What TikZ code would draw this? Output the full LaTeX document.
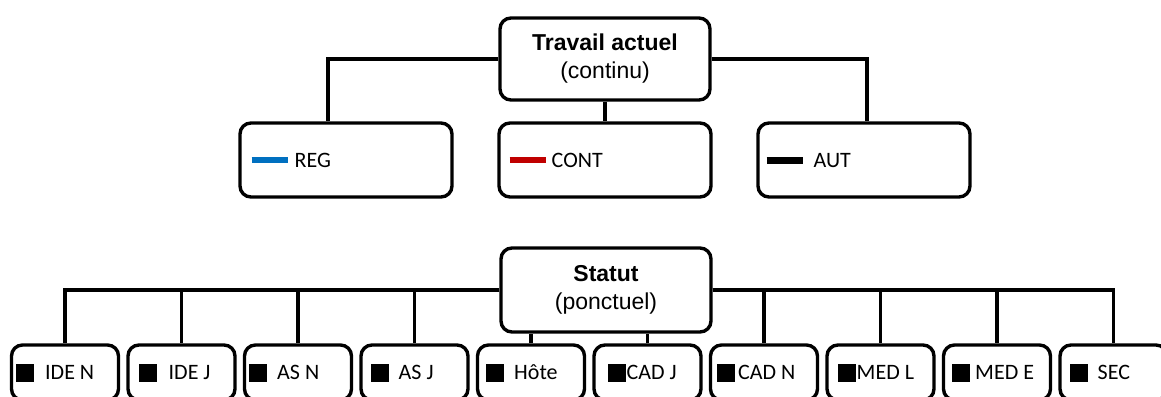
\documentclass[tikz,border=0pt]{standalone}
\usepackage{fontspec}
\setmainfont{Liberation Sans}
\newfontfamily\carlito{Carlito}
\usetikzlibrary{positioning}
\definecolor{regblue}{HTML}{0070C0}
\definecolor{contred}{HTML}{C00000}
\newcommand{\legline}[2][3pt]{{\color{#2}\rule[\dimexpr 3.5pt-#1/2\relax]{18pt}{#1}}}
\newcommand{\sqmark}{\rule[-1pt]{9pt}{9pt}}
\tikzset{
  box/.style={draw, line width=1.7pt, rounded corners=5.5pt, fill=white, inner sep=0pt},
  headbox/.style={box, minimum width=105pt, minimum height=41pt, align=center,
    font=\fontsize{11.5}{14}\selectfont},
  midbox/.style={box, minimum width=106pt, minimum height=37pt},
  lowbox/.style={box, minimum width=53.5pt, minimum height=27.5pt},
  lab/.style={anchor=west, inner sep=0pt, text height=7pt, text depth=0pt,
    font=\carlito\fontsize{11}{13}\selectfont},
  link/.style={line width=1.6pt},
}

\begin{document}
\begin{tikzpicture}[x=0.5pt,y=-0.5pt]
\useasboundingbox (0,0) rectangle (1161,396);
\clip (0,0) rectangle (1161,396);
% travail actuel
\node[headbox] (tw) at (605,59) {\textbf{Travail actuel}\\(continu)};
\node[midbox] (reg) at (346,160) {};
\node[midbox] (cont) at (605,160) {};
\node[midbox] (aut) at (864,160) {};
\node[lab] (reglab) at ([xshift=6.5pt]reg.west) {\legline{regblue}\hspace{3.5pt}REG};
\node[lab] (contlab) at ([xshift=6pt]cont.west) {\legline{contred}\hspace{3pt}CONT};
\node[lab] (autlab) at ([xshift=5pt]aut.west) {\legline[3.5pt]{black}\hspace{5.5pt}AUT};
\draw[link] (tw.west) -| ([xshift=-9pt]reg.north);
\draw[link] (tw.east) -| ([xshift=1.5pt]aut.north);
\draw[link] (tw) -- (cont);
% statut
\node[headbox, minimum height=42pt] (st) at (606,290) {\textbf{Statut}\\(ponctuel)};
\foreach \i/\txt/\off/\gap in {1/IDE N/3/5.5, 2/IDE J/6/6, 3/AS N/3/5, 4/AS J/5.5/5,
    5/Hôte/5/5, 6/CAD J/7.5/0.5, 7/CAD N/4/1.5, 8/MED L/6/0.5, 9/MED E/5/2.5, 10/SEC/5.5/5}{
  \node[lowbox] (b\i) at ({65+116.5*(\i-1)},372.5) {};
  \node[lab] (t\i) at ([xshift=\off pt]b\i.west) {\sqmark\hspace{\gap pt}\txt};
}
\foreach \i in {1,...,4} \draw[link] (st.west) -| (b\i.north);
\foreach \i in {7,...,10} \draw[link] (st.east) -| (b\i.north);
\foreach \i in {5,6} \draw[link] (b\i.north) -- (b\i.north |- st.south);
\end{tikzpicture}
\end{document}
